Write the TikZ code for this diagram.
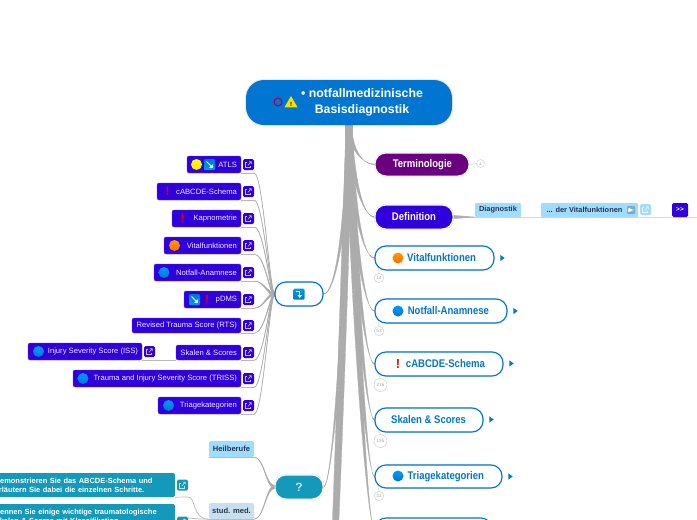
\documentclass[tikz,border=0pt]{standalone}
\usepackage{fontspec}
\setmainfont{Liberation Sans}
\newfontfamily\cond[FakeStretch=0.86]{Liberation Sans}
\usetikzlibrary{calc,backgrounds,shapes.geometric}
\definecolor{rootblue}{RGB}{0,117,210}
\definecolor{violetblue}{RGB}{48,0,220}
\definecolor{deeppurple}{RGB}{106,0,128}
\definecolor{tealq}{RGB}{20,153,187}
\definecolor{sky}{RGB}{160,220,255}
\definecolor{palesky}{RGB}{198,224,240}
\definecolor{branchgray}{RGB}{172,172,172}
\definecolor{darktxt}{RGB}{35,55,80}
\newcommand{\fsz}[1]{\fontsize{#1}{#1}\selectfont\baselineskip=1.25\baselineskip}
\tikzset{
  halo/.style={preaction={draw=black,opacity=.08,line width=2.2pt}},
  boxbase/.style={inner ysep=0pt,rounded corners=#1},
  mainfill/.style={boxbase=11pt,draw=white,line width=1pt,halo,text=white,font=\cond\bfseries\fsz{11.1},align=right},
  mainline/.style={boxbase=11pt,draw=rootblue,line width=1.1pt,fill=white,halo,text=rootblue,font=\cond\bfseries\fsz{11.1},align=right},
  kid/.style={boxbase=2pt,fill=violetblue,draw=violetblue!75!white,line width=.4pt,text=white!92!violetblue,font=\fsz{7.65},align=right},
  tagbox/.style={boxbase=1.5pt,fill=sky,text=darktxt,font=\bfseries\fsz{7.6},align=center},
  linkbox/.style={rounded corners=1.5pt,minimum size=11pt,inner sep=0pt},
  br/.style={fill=branchgray,draw=branchgray,line width=.3pt},
  thinline/.style={draw=branchgray!85!white,line width=.7pt},
  badge/.style={circle,draw=black!18,fill=white,line width=.5pt,inner sep=0pt,text=black!35,font=\fsz{4.6}},
  sparse/.style={isosceles triangle,isosceles triangle apex angle=70,fill=rootblue,inner sep=0pt,minimum size=4.3pt},
}
% boxed node: name, x1, y1, x2, y2, style, right pad, text
\newcommand{\bx}[8]{\node[#6,inner xsep=0pt,minimum height={(#5-#3)*1pt},minimum width={(#4-#2)*1pt}] (#1) at ({(#2+#4)/2},{(#3+#5)/2}) {\hbox to \dimexpr #4pt-#2pt\relax{\hfill\raisebox{-.5pt}{#8}\hskip #7pt}};}
% link icon
\newcommand{\lnk}[4]{\node[linkbox,fill=#4] (#1) at (#2,#3) {};
  \draw[white!72!#4,line width=.6pt] (#2-1.4,#3-2.2) -- (#2-2.8,#3-2.2) -- (#2-2.8,#3+2.8) -- (#2+2.2,#3+2.8) -- (#2+2.2,#3+1.2);
  \draw[white!72!#4,line width=.6pt] (#2-.6,#3+.9) -- (#2+2.8,#3-2.8) (#2+.6,#3-2.8) -- (#2+2.8,#3-2.8) -- (#2+2.8,#3-.6);}
% round icon
\newcommand{\ballicon}[4]{\node[circle,minimum size=11pt,inner sep=0pt,top color=#3,bottom color=#4] (#1) at (#2) {};}
\newcommand{\arrowicon}[2]{\node[rounded corners=1pt,minimum size=11pt,inner sep=0pt,top color=rootblue,bottom color=rootblue!70!cyan] (#1) at (#2) {};
  \draw[white,line width=1pt] ($(#1.center)+(-3,-3)$) -- ($(#1.center)+(2.2,2.2)$);
  \fill[white] ($(#1.center)+(3.4,3.4)$) -- ($(#1.center)+(3.4,-.4)$) -- ($(#1.center)+(-.4,3.4)$) -- cycle;}
\newcommand{\bang}[3]{\node[text=red!90!black,font=\bfseries\fsz{#3},inner sep=0pt] (#1) at (#2) {!};}
% tapered branches
\newcommand{\taperv}[6]{\fill[br] ($(#1)+(-#5,0)$) .. controls ($(#2)+(-#5,0)$) and ($(#3)+(0,-#6)$) .. ($(#4)+(0,-#6)$) -- ($(#4)+(0,#6)$) .. controls ($(#3)+(0,#6)$) and ($(#2)+(#5,0)$) .. ($(#1)+(#5,0)$) -- cycle;}
\newcommand{\taperz}[6]{\fill[br] ($(#1)+(-#5,0)$) .. controls ($(#2)+(-#5,0)$) and ($(#3)+(-#6,0)$) .. ($(#4)+(-#6,0)$) -- ($(#4)+(#6,0)$) .. controls ($(#3)+(#6,0)$) and ($(#2)+(#5,0)$) .. ($(#1)+(#5,0)$) -- cycle;}
\newcommand{\taperh}[5]{\fill[br,line width=.55pt] ($(#1)+(0,-#5)$) .. controls ($(#2)+(0,-#5)$) and ($(#3)+(0,-.1)$) .. ($(#4)+(0,-.1)$) -- ($(#4)+(0,.1)$) .. controls ($(#3)+(0,.1)$) and ($(#2)+(0,#5)$) .. ($(#1)+(0,#5)$) -- cycle;}
% kid connector running under the box to the edge of its link
\newcommand{\kidlink}[4]{\coordinate (#2e) at ($(#2.south east)+(13,0)$);
  \draw[thinline] (#2.south east) -- (#2e);
  \taperh{#1}{#3}{#4}{#2e}{1.5}}
\begin{document}
\begin{tikzpicture}[x=1pt,y=-1pt]
\useasboundingbox (0,0) rectangle (697,520);
% root
\node[fill=rootblue,rounded corners=18pt,minimum width=206pt,minimum height=45pt,inner sep=0pt,text=white,font=\bfseries\fsz{12.3},align=center,halo] (root) at (349,102.5) {\raisebox{-1pt}{\hskip 26pt\textbullet\ notfallmedizinische}\\\raisebox{-1pt}{\hskip 26pt Basisdiagnostik}};
\node[circle,draw=red!65!blue,line width=1.1pt,minimum size=8pt,inner sep=0pt] (ring) at (278,102) {};
\node[regular polygon,regular polygon sides=3,fill=yellow!80!orange,minimum size=15pt,inner sep=0pt] (warn) at (291,103.5) {};
\node[font=\bfseries\fsz{6},inner sep=0pt,text=black] (warnm) at (291,104) {!};
% right main topics
\bx{term}{375}{153}{469}{176}{mainfill,fill=deeppurple}{17}{Terminologie}
\bx{defn}{375}{205}{453}{229}{mainfill,fill=violetblue}{17}{Definition}
\bx{vital}{375}{246}{494}{270}{mainline}{18}{Vitalfunktionen}
\bx{anam}{375}{299}{507}{323}{mainline}{18}{Notfall-Anamnese}
\bx{abcde}{375}{352}{503}{376}{mainline}{18}{cABCDE-Schema}
\bx{scores}{375}{408}{483}{432}{mainline}{17}{Skalen \& Scores}
\bx{triage}{375}{465}{502}{488}{mainline}{18}{Triagekategorien}
\node[boxbase=11pt,draw=rootblue,line width=1.1pt,fill=white,minimum width=117pt,minimum height=24pt,inner sep=0pt] (nextmain) at (433.5,530) {};
\ballicon{vi}{398,258}{orange!80!yellow}{orange!85!red}
\ballicon{ai}{398,311}{cyan!60!blue}{rootblue}
\bang{bi}{398,364}{13}
\ballicon{ti}{398,476}{cyan!60!blue}{rootblue}
% sparse arrows
\node[sparse] (s1) at (502,258) {};
\node[sparse] (s2) at (515,311) {};
\node[sparse] (s3) at (511,363.5) {};
\node[sparse] (s4) at (491,419.5) {};
\node[sparse] (s5) at (510,476.5) {};
% badges
\node[badge,minimum size=8pt] (b0) at (480.5,163.5) {1};
\node[badge,minimum size=9.5pt] (b1) at (379,278) {14};
\node[badge,minimum size=9.5pt] (b2) at (379,331) {53};
\node[badge,minimum size=13pt] (b3) at (380.5,385) {216};
\node[badge,minimum size=13pt] (b4) at (380.5,441) {135};
\node[badge,minimum size=9.5pt] (b5) at (379,496) {32};
% definition chain
\node[boxbase=1pt,fill=sky,text=darktxt,font=\bfseries\fsz{7.4},minimum width=46pt,minimum height=14pt,inner sep=0pt] (diag) at (498,210) {Diagnostik};
\node[boxbase=1pt,fill=sky,text=darktxt,font=\bfseries\fsz{7.4},minimum width=97pt,minimum height=14pt,inner sep=0pt] (dervital) at (589.5,210) {\hskip -10pt ... der Vitalfunktionen};
\node[rounded corners=1pt,fill=black!22!sky,minimum size=8pt,inner sep=0pt] (dva) at (631,210) {};
\draw[white,line width=1pt,-latex] ($(dva.center)+(-3,0)$) -- ($(dva.center)+(3.2,0)$);
\lnk{dl}{645.5}{209.5}{sky}
\node[boxbase=1.5pt,fill=violetblue,text=white,font=\bfseries\fsz{6.5},minimum width=16pt,minimum height=14pt,inner sep=0pt] (more) at (680,210) {>{}>};
% left upper node
\node[boxbase=11pt,draw=rootblue,line width=1.1pt,fill=white,halo,minimum width=48pt,minimum height=24pt,inner sep=0pt] (tools) at (299,294) {};
\node[rounded corners=1pt,minimum size=11pt,inner sep=0pt,top color=rootblue!70!cyan,bottom color=rootblue] (toolsi) at (299,294) {};
\draw[white,line width=1pt] ($(toolsi.center)+(-3,-2.8)$) -- ($(toolsi.center)+(.8,-2.8)$) -- ($(toolsi.center)+(.8,1.5)$);
\fill[white] ($(toolsi.center)+(-1.6,1)$) -- ($(toolsi.center)+(3.2,1)$) -- ($(toolsi.center)+(.8,4)$) -- cycle;
% left kids
\bx{k1}{187}{156}{241}{173}{kid}{4}{ATLS}
\bx{k2}{157}{183}{241}{200}{kid}{4}{cABCDE-Schema}
\bx{k3}{172}{210}{241}{227}{kid}{4}{Kapnometrie}
\bx{k4}{164}{237}{241}{254}{kid}{4}{Vitalfunktionen}
\bx{k5}{154}{264}{241}{281}{kid}{4}{Notfall-Anamnese}
\bx{k6}{184}{291}{241}{308}{kid}{4}{pDMS}
\bx{k7}{132}{318}{241}{333}{kid}{4}{Revised Trauma Score (RTS)}
\bx{k8}{176}{345}{241}{360}{kid}{4}{Skalen \& Scores}
\bx{k9}{28}{343}{142}{360}{kid}{4}{Injury Severity Score (ISS)}
\bx{k10}{73}{370}{241}{387}{kid}{4}{Trauma and Injury Severity Score (TRISS)}
\bx{k11}{158}{397}{241}{414}{kid}{4}{Triagekategorien}
\lnk{l1}{248.5}{164.5}{violetblue}
\lnk{l2}{248.5}{191.5}{violetblue}
\lnk{l3}{248.5}{218.5}{violetblue}
\lnk{l4}{248.5}{245.5}{violetblue}
\lnk{l5}{248.5}{272.5}{violetblue}
\lnk{l6}{248.5}{299.5}{violetblue}
\lnk{l7}{248.5}{325.5}{violetblue}
\lnk{l8}{248.5}{352.5}{violetblue}
\lnk{l9}{149.5}{351.5}{violetblue}
\lnk{l10}{248.5}{378.5}{violetblue}
\lnk{l11}{248.5}{405.5}{violetblue}
\ballicon{a1}{196.5,164.5}{yellow}{yellow!80!orange}
\arrowicon{a2}{209.5,164.5}
\bang{a3}{167.5,191.5}{12}
\bang{a4}{182.5,218.5}{12}
\ballicon{a5}{174.5,245.5}{orange!80!yellow}{orange!85!red}
\ballicon{a6}{164,272.5}{cyan!60!blue}{rootblue}
\arrowicon{a7}{194.5,299.5}
\bang{a8}{207,299.5}{12}
\ballicon{a9}{38.5,351.5}{cyan!60!blue}{rootblue}
\ballicon{a10}{83,378.5}{cyan!60!blue}{rootblue}
\ballicon{a11}{168.5,405.5}{cyan!60!blue}{rootblue}
% question node
\node[boxbase=11pt,draw=white,line width=1pt,fill=tealq,halo,minimum width=48pt,minimum height=24pt,inner sep=0pt,text=white!75!tealq,font=\bfseries\fsz{12}] (quest) at (299,487) {?};
\node[tagbox,minimum width=45pt,minimum height=16pt,inner sep=0pt] (heil) at (231.5,449) {Heilberufe};
\node[tagbox,fill=palesky,minimum width=45pt,minimum height=16pt,inner sep=0pt] (stud) at (231.5,511) {stud. med.};
\node[boxbase=1.5pt,fill=tealq,text=white,font=\bfseries\fsz{7.45},text width=176pt,align=left,inner xsep=4pt,inner ysep=0pt,minimum height=24pt,anchor=east] (q1) at (175,485) {Demonstrieren Sie das ABCDE-Schema und\\erläutern Sie dabei die einzelnen Schritte.};
\node[boxbase=1.5pt,fill=tealq,text=white,font=\bfseries\fsz{7.45},text width=176pt,align=left,inner xsep=4pt,inner ysep=0pt,minimum height=24pt,anchor=east] (q2) at (175,516) {Nennen Sie einige wichtige traumatologische\\Skalen \& Scores mit Klassifikation.};
\lnk{lq1}{182.5}{485}{tealq}
\lnk{lq2}{182.5}{522}{tealq}
% off-page targets of the trunk
\coordinate (off1) at (328,760);
\coordinate (off2) at (326,760);
\coordinate (off3) at (324,760);
\begin{scope}[on background layer]
 % trunk, left bundle running off the page
 \taperz{root.south}{346,300}{336,560}{off1}{3}{1.1}
 \taperz{root.south}{344.5,300}{334.5,560}{off2}{3}{1.1}
 \taperz{root.south}{343,300}{333,560}{off3}{3}{1.1}
 % to left nodes
 \taperv{root.south}{346,240}{334,294}{tools.east}{2}{.35}
 \taperv{root.south}{346,300}{333,487}{quest.east}{2.4}{.35}
 % right bundle
 \taperv{root.south}{350,145}{360,164}{term.west}{2.4}{.4}
 \taperv{root.south}{352,175}{362,217}{defn.west}{2.6}{.4}
 \taperv{root.south}{352,200}{362,258}{vital.west}{2.8}{.4}
 \taperv{root.south}{352,230}{364,311}{anam.west}{3}{.4}
 \taperv{root.south}{353,250}{365,364}{abcde.west}{3.2}{.4}
 \taperv{root.south}{354,280}{366,420}{scores.west}{3.4}{.4}
 \taperv{root.south}{354.5,310}{367,476}{triage.west}{3.4}{.4}
 \taperv{root.south}{355,340}{368,530}{nextmain.west}{3.4}{.4}
 % badge stems
 \draw[black!18,line width=.5pt] (term.east) -- (b0.west);
 \draw[black!18,line width=.5pt] (vital.south west)++(4,-2) -- (b1.north);
 \draw[black!18,line width=.5pt] (anam.south west)++(4,-2) -- (b2.north);
 \draw[black!18,line width=.5pt] (abcde.south west)++(4,-2) -- (b3.north);
 \draw[black!18,line width=.5pt] (scores.south west)++(4,-2) -- (b4.north);
 \draw[black!18,line width=.5pt] (triage.south west)++(4,-2) -- (b5.north);
 % definition line
 \coordinate (chainend) at (697,217);
 \draw[branchgray!50!white,line width=1pt] (defn.east) -- (chainend);
 \taperh{defn.east}{460,217}{468,217}{diag.south west}{1.4}
 % left kids
 \kidlink{tools.west}{k1}{270,294}{263,173}
 \kidlink{tools.west}{k2}{270,294}{263,200}
 \kidlink{tools.west}{k3}{270,294}{264,227}
 \kidlink{tools.west}{k4}{269,294}{265,254}
 \kidlink{tools.west}{k5}{267,294}{264,281}
 \kidlink{tools.west}{k6}{267,294}{264,308}
 \kidlink{tools.west}{k7}{270,294}{265,333}
 \kidlink{tools.west}{k8}{270,294}{264,360}
 \kidlink{tools.west}{k10}{270,294}{263,387}
 \kidlink{tools.west}{k11}{270,294}{263,414}
 \draw[thinline] (k9.south east) -- (k8.south west);
 % question side
 \taperh{quest.west}{266,487}{264,457}{heil.south east}{1.5}
 \taperh{quest.west}{266,487}{264,519}{stud.south east}{1.5}
 \draw[thinline] (heil.south west) -- (heil.south east);
 \draw[thinline] (stud.south west) -- (stud.south east);
 \draw[thinline] (q1.south east) -- (188,497) .. controls (196,497) and (192,519) .. (stud.south west);
 \draw[thinline] (q2.north east)++(13,14) .. controls (196,519) and (200,519) .. (stud.south west);
\end{scope}
\end{tikzpicture}
\end{document}
